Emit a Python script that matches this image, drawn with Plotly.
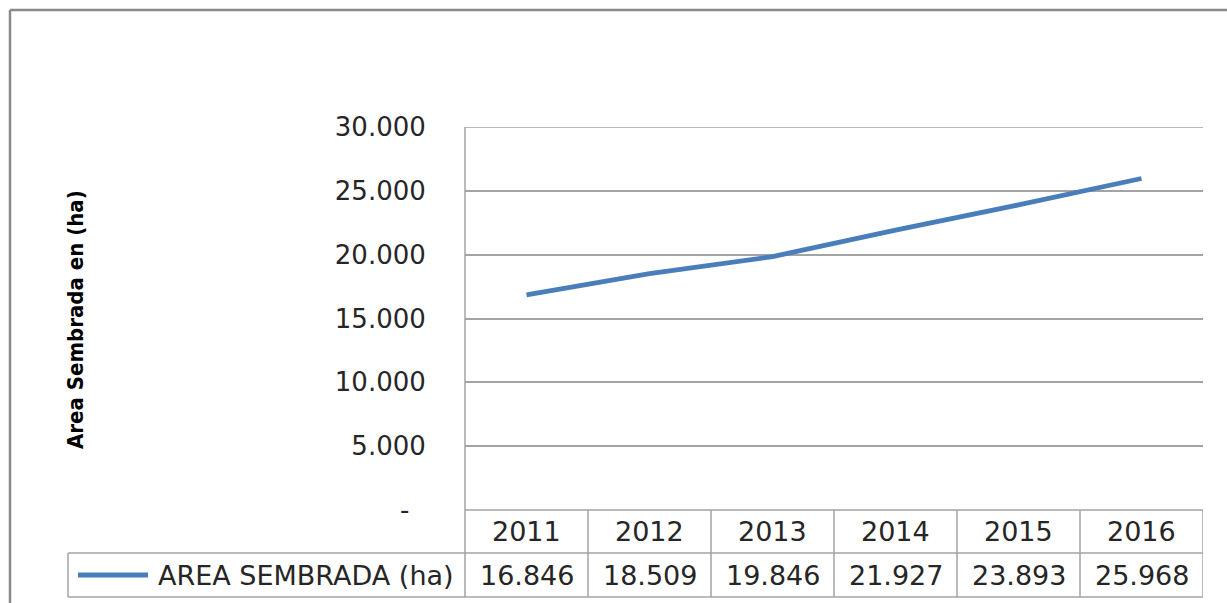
import plotly.graph_objects as go

# ---- data ----
years = ["2011", "2012", "2013", "2014", "2015", "2016"]
area_ha = [16846, 18509, 19846, 21927, 23893, 25968]
series_name = "AREA SEMBRADA (ha)"
y_title = "Area Sembrada en (ha)"
y_ticks = [0, 5000, 10000, 15000, 20000, 25000, 30000]
y_max = 30000

W, H = 1227, 603
def px(x):
    return x / W
def py(y):
    return 1 - y / H

def fmt(v):
    if v == 0:
        return "-\u00a0\u00a0"
    return f"{v:,.0f}".replace(",", ".")

def fmt_val(v):
    return f"{v:,.0f}".replace(",", ".")

LINE_COLOR = "#4A7EBB"
GRID = "#a3a3a3"
TXT = "#262626"
FONT = "DejaVu Sans"

xs = list(range(len(years)))

fig = go.Figure()
fig.add_trace(go.Scatter(
    x=xs, y=area_ha, mode="lines", name=series_name,
    line=dict(color=LINE_COLOR, width=4.8), showlegend=False, hoverinfo="skip",
))

x_left, x_right = 465, 1203
y_top, y_bot = 127, 510
row1, row2 = 553, 597
leg_left = 68

fig.update_layout(
    width=W, height=H, autosize=False,
    margin=dict(l=0, r=0, t=0, b=0, pad=0),
    paper_bgcolor="white", plot_bgcolor="white",
    xaxis=dict(domain=[px(x_left), px(x_right)], range=[-0.5, len(years) - 0.5],
               showticklabels=False, showgrid=False, zeroline=False, ticks="",
               automargin=False),
    yaxis=dict(domain=[py(y_bot), py(y_top)], range=[0, y_max],
               tickvals=y_ticks, ticktext=[fmt(v) for v in y_ticks],
               showgrid=True, gridcolor=GRID, gridwidth=1.5, zeroline=False,
               ticks="outside", ticklen=33, tickcolor="rgba(0,0,0,0)",
               tickfont=dict(family=FONT, size=26, color=TXT),
               automargin=False),
)

shapes = []
def line(x0, y0, x1, y1, xref="paper", yref="paper", color=GRID, width=1.5):
    shapes.append(dict(type="line", xref=xref, yref=yref, x0=x0, y0=y0, x1=x1, y1=y1,
                       line=dict(color=color, width=width), layer="below"))

# outer chart frame
line(px(10), py(10), px(10), py(603), color="#8a8a8a", width=2.5)
line(px(10), py(10), px(1227), py(10), color="#8a8a8a", width=2.5)

# top gridline at the axis maximum
line(-0.5, y_max, len(years) - 0.5, y_max, xref="x", yref="y")
# plot area left edge extended into table
line(px(x_left), py(y_top), px(x_left), py(row2))
# table horizontal lines
line(px(x_left), py(y_bot), px(x_right), py(y_bot))
line(px(leg_left), py(row1), px(x_right), py(row1))
line(px(leg_left), py(row2), px(x_right), py(row2))
line(px(leg_left), py(row1), px(leg_left), py(row2))
# column separators
for i in range(1, len(years) + 1):
    line(i - 0.5, py(y_bot), i - 0.5, py(row2), xref="x")

# legend key
shapes.append(dict(type="line", xref="paper", yref="paper",
                   x0=px(78), x1=px(148), y0=py(575), y1=py(575),
                   line=dict(color=LINE_COLOR, width=4.8)))
fig.update_layout(shapes=shapes)

ann = []
for i, (yr, v) in enumerate(zip(years, area_ha)):
    ann.append(dict(x=i, xref="x", y=py(531), yref="paper", text=yr, showarrow=False,
                    xanchor="center", yanchor="middle",
                    font=dict(family=FONT, size=27, color=TXT)))
    ann.append(dict(x=i, xref="x", y=py(575), yref="paper", text=fmt_val(v), showarrow=False,
                    xanchor="center", yanchor="middle",
                    font=dict(family=FONT, size=27, color=TXT)))
ann.append(dict(x=px(456), xref="paper", y=py(575), yref="paper", text=series_name,
                showarrow=False, xanchor="right", yanchor="middle",
                font=dict(family=FONT, size=27, color=TXT)))
ann.append(dict(x=px(75), xref="paper", y=py(320), yref="paper", text="<b>" + y_title + "</b>",
                showarrow=False, textangle=-90, xanchor="center", yanchor="middle",
                font=dict(family="DejaVu Sans Condensed, Liberation Sans Narrow", size=22, color="#000000")))
fig.update_layout(annotations=ann)

fig.write_html("out.html", config={"displayModeBar": False},
               post_script="document.body.style.margin='0';")
